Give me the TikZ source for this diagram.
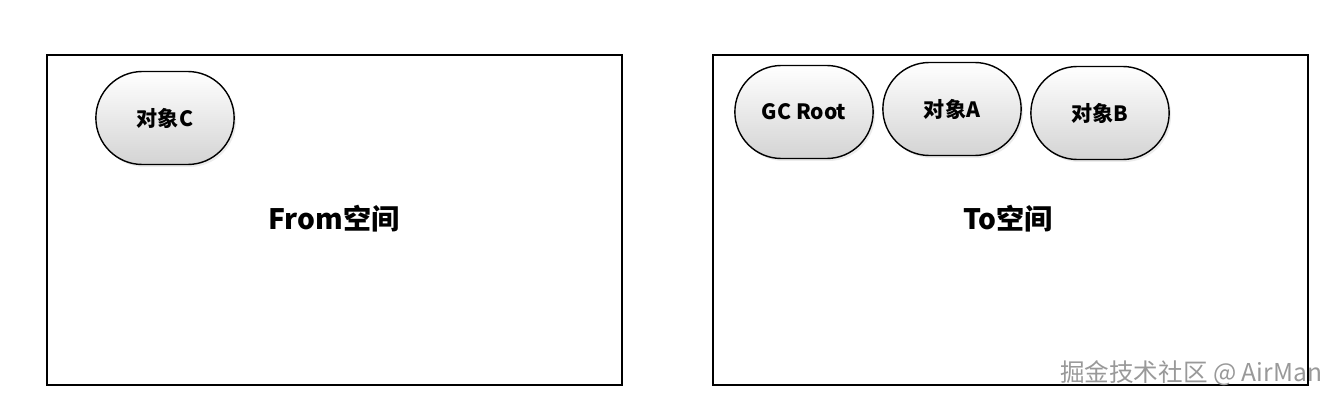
\documentclass[tikz,border=0pt]{standalone}
\usepackage{fontspec}
\newfontfamily\cjk{Noto Sans CJK SC}
\usepackage{tikz}
\usetikzlibrary{
  shapes.misc,
  shadows,
  positioning
}
\tikzset{
  space/.style={draw=black, line width=1.5pt},
  obj/.style={rounded rectangle, draw=black, line width=0.8pt,
    minimum width=3.0cm, minimum height=1.86cm,
    top color=white, bottom color=black!17,
    drop shadow={opacity=0.15, shadow xshift=0.04cm, shadow yshift=-0.05cm},
    font=\cjk\bfseries\fontsize{12}{14}\selectfont},
  spacelabel/.style={font=\cjk\bfseries\fontsize{16}{19}\selectfont},
  watermark/.style={font=\cjk\fontsize{14}{17}\selectfont, text=black!40}
}

\begin{document}
\begin{tikzpicture}
		\useasboundingbox (0,0) rectangle (26.82,-8.06);
		% two halves of the survivor space
			\coordinate (F1) at (0.94,-1.10);
			\coordinate (F2) at (12.44,-7.70);
			\coordinate (T1) at (14.26,-1.10);
			\coordinate (T2) at (26.16,-7.70);
			\draw[space] (F1) rectangle (F2);
			\draw[space] (T1) rectangle (T2);
			\node[spacelabel] (from) at (6.68,-4.38) {From空间};
			\node[spacelabel] (to) at (20.16,-4.38) {To空间};
		% objects
			\node[obj] (objC) at (3.30,-2.36) {对象C};
			\node[obj] (root) at (16.08,-2.24) {GC Root};
			\node[obj] (objA) at (19.04,-2.18) {对象A};
			\node[obj] (objB) at (22.00,-2.26) {对象B};
			\node[watermark] (wm) at (23.82,-7.46) {掘金技术社区 @ AirMan};
		\end{tikzpicture}
\end{document}
